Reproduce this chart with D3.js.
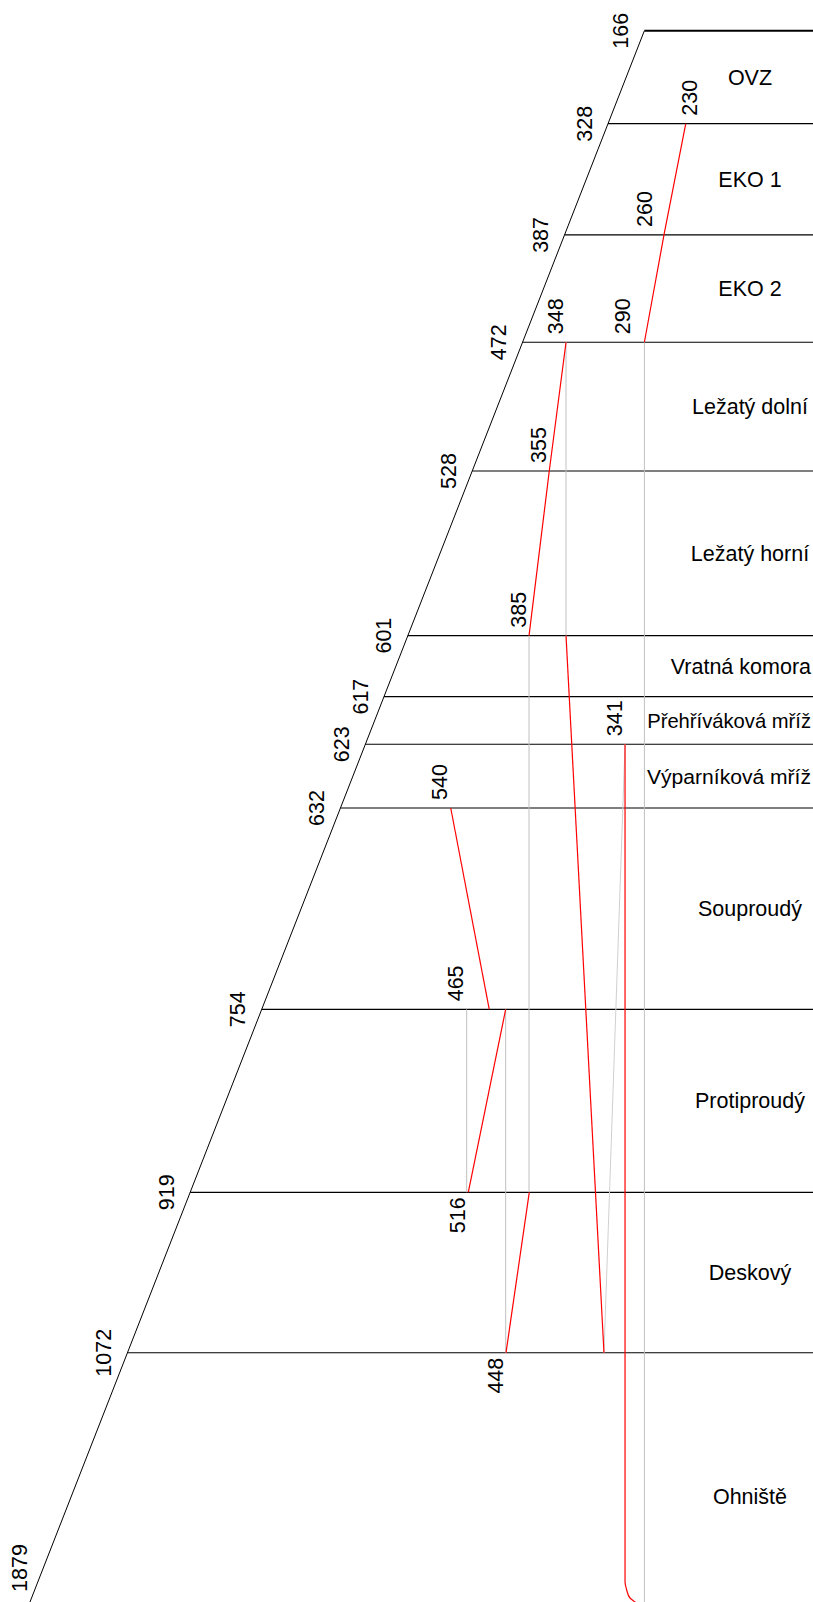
<!DOCTYPE html>
<html lang="cs">
<head>
<meta charset="UTF-8">
<title>T-Q diagram kotle</title>
<script src="https://d3js.org/d3.v7.min.js"></script>
<style>
    body { margin: 0; background: #fff; }
    svg text { font-family: "Liberation Sans", Arial, sans-serif; font-size: 21.5px; fill: #000; }
    .bound { stroke: #000; stroke-width: 1.2px; }
    .gas { fill: none; stroke: #000; stroke-width: 1px; }
    .water { fill: none; stroke: #ff0000; stroke-width: 1.2px; }
    .link { fill: none; stroke: #c0c0c0; stroke-width: 1px; }
</style>
</head>
<body>
<div id="chart"></div>
<script>
// sections of the boiler, from flue gas exit (top) to furnace (bottom)
const sectionNames = ["OVZ", "EKO 1", "EKO 2", "Ležatý dolní", "Ležatý horní", "Vratná komora",
    "Přehříváková mříž", "Výparníková mříž", "Souproudý", "Protiproudý", "Deskový", "Ohniště"];
// cumulative heat at the section boundaries, % of total
const boundaryQ = [0, 5.78, 12.69, 19.36, 27.36, 37.59, 41.38, 44.34, 48.30, 60.81, 72.18, 82.15, 100];
// flue gas temperature at each boundary, °C
const gasTemps = [166, 328, 387, 472, 528, 601, 617, 623, 632, 754, 919, 1072, 1879];
// flue gas line position at Q = 0 and Q = 100
const gasLineP = [79.26, 1.86];

// water / steam lines, points as [Q, position]
const feedWater = [[5.78, 84.35], [12.69, 81.67], [19.36, 79.26]];
const lezaty = [[19.36, 69.62], [27.36, 67.56], [37.59, 65.07]];
const vratna = [[37.59, 69.62], [82.15, 74.29]];
const evaporator = [[44.34, 76.88], [96.40, 76.88], [96.89, 77.08], [97.39, 77.49], [97.64, 78.11], [98.2, 79.26]];
const souproudy = [[48.30, 55.44], [60.81, 60.18]];
const protiproudy = [[60.81, 62.20], [72.18, 57.60]];
const deskovy = [[72.18, 65.10], [82.15, 62.24]];
const waterLines = [feedWater, lezaty, vratna, evaporator, souproudy, protiproudy, deskovy];

// grey connections between heat exchangers
const links = [
    [[19.36, 79.26], [100, 79.26]],
    [[19.36, 69.62], [37.59, 69.62]],
    [[37.59, 65.07], [72.18, 65.07]],
    [[44.34, 76.88], [82.15, 74.29]],
    [[60.81, 57.40], [72.18, 57.40]],
    [[60.81, 62.20], [82.15, 62.20]]
];

// water / steam temperatures, °C
const waterLabels = [
    { t: 230, q: 5.78, p: 84.35, side: "above" },
    { t: 260, q: 12.69, p: 81.67, side: "above" },
    { t: 290, q: 19.36, p: 79.26, side: "above" },
    { t: 348, q: 19.36, p: 69.62, side: "above" },
    { t: 355, q: 27.36, p: 67.56, side: "above" },
    { t: 385, q: 37.59, p: 65.07, side: "above" },
    { t: 341, q: 44.34, p: 76.88, side: "above" },
    { t: 540, q: 48.30, p: 55.44, side: "above" },
    { t: 465, q: 60.81, p: 57.40, side: "above" },
    { t: 516, q: 72.18, p: 57.60, side: "below" },
    { t: 448, q: 82.15, p: 62.24, side: "below" }
];
// label nudges (px) where the default offset does not fit
const labelShift = { 230: 4, 260: -20, 290: -22 };

const width = 813, height = 1602;
const nameMaxWidth = 164;

const svg = d3.select("#chart").append("svg")
    .attr("width", width)
    .attr("height", height);

const y = d3.scaleLinear().domain([0, 100]).range([30.7, 1640]);
const x = d3.scaleLinear().domain([0, 100]).range([0, width]);
const gasP = d3.scaleLinear().domain([0, 100]).range(gasLineP);

const line = d3.line().x(d => x(d[1])).y(d => y(d[0]));

// flue gas line
svg.append("path")
    .attr("class", "gas")
    .attr("d", line([[0, gasP(0)], [100, gasP(100)]]));

// section boundaries
svg.append("g")
    .selectAll("line")
    .data(boundaryQ.slice(0, -1))
    .enter().append("line")
    .attr("class", "bound")
    .attr("x1", q => x(gasP(q)))
    .attr("x2", width)
    .attr("y1", q => y(q))
    .attr("y2", q => y(q))
    .style("stroke-width", (q, i) => i === 0 ? "2px" : null);

// grey links
svg.append("g")
    .selectAll("path")
    .data(links)
    .enter().append("path")
    .attr("class", "link")
    .style("stroke", (d, i) => i === 3 ? "#d0d0d0" : null)
    .attr("d", line);

// water / steam lines
svg.append("g")
    .selectAll("path")
    .data(waterLines)
    .enter().append("path")
    .attr("class", "water")
    .attr("d", d => (d === evaporator ? line.curve(d3.curveMonotoneY) : line.curve(d3.curveLinear))(d));

// gas temperatures, left of the gas line
svg.append("g")
    .selectAll("text")
    .data(gasTemps)
    .enter().append("text")
    .attr("text-anchor", "middle")
    .attr("dy", "0.35em")
    .attr("transform", (t, i) => {
        const yy = Math.min(y(boundaryQ[i]), height - 34);
        const xx = x(gasP(y.invert(yy))) - 24;
        return `translate(${xx},${yy}) rotate(-90)`;
    })
    .text(t => t);

// water temperatures
svg.append("g")
    .selectAll("text")
    .data(waterLabels)
    .enter().append("text")
    .attr("text-anchor", d => d.side === "above" ? "start" : "end")
    .attr("dy", "0.35em")
    .attr("transform", d => {
        const dx = labelShift[d.t] !== undefined ? labelShift[d.t] : -11;
        const yy = d.side === "above" ? y(d.q) - 8 : y(d.q) + 5;
        return `translate(${x(d.p) + dx},${yy}) rotate(-90)`;
    })
    .text(d => d.t);

// section names, long ones shrunk to fit the right margin
svg.append("g")
    .selectAll("text")
    .data(sectionNames)
    .enter().append("text")
    .attr("text-anchor", "middle")
    .attr("dy", "0.35em")
    .attr("y", (n, i) => (y(boundaryQ[i]) + y(boundaryQ[i + 1])) / 2)
    .text(n => n)
    .each(function () {
        const t = d3.select(this);
        let w = this.getComputedTextLength();
        if (w > nameMaxWidth) {
            t.style("font-size", (21.5 * nameMaxWidth / w).toFixed(2) + "px");
            w = this.getComputedTextLength();
        }
        t.attr("x", Math.min(750, width - 2 - w / 2));
    });
</script>
</body>
</html>
